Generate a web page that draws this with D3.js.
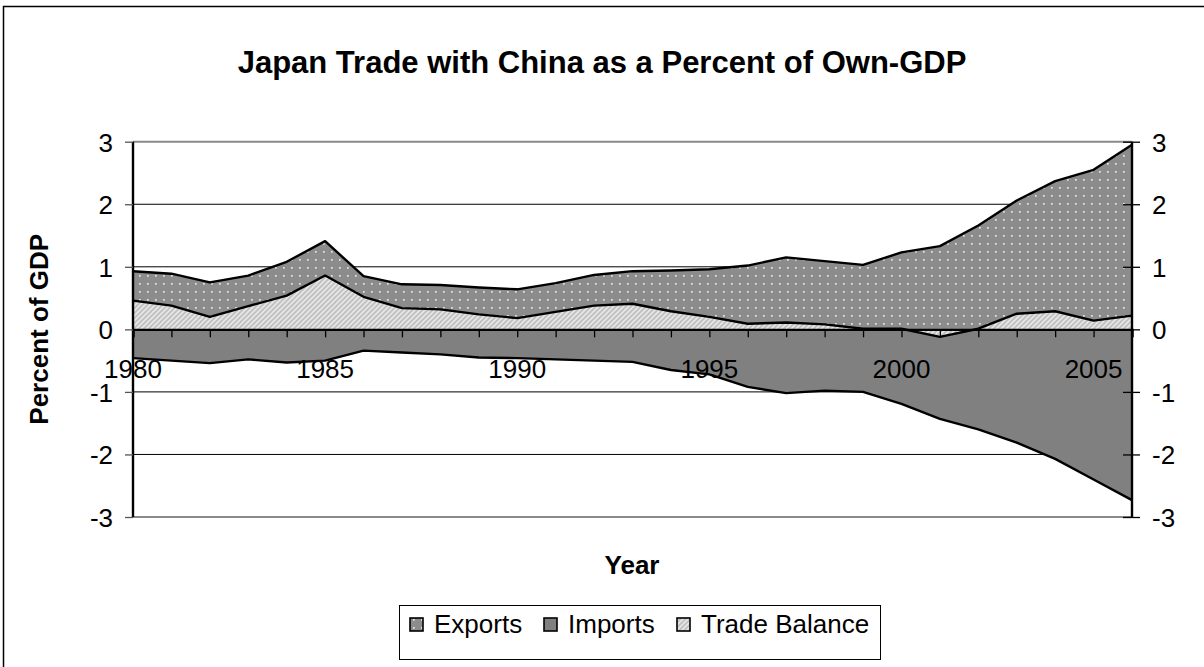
<!DOCTYPE html>
<html>
<head>
<meta charset="utf-8">
<script src="https://cdn.jsdelivr.net/npm/d3@7"></script>
<style>
  html, body { margin: 0; padding: 0; background: #fff; }
  svg { display: block; font-family: Arial, "Liberation Sans", sans-serif; }
</style>
</head>
<body>
<svg id="chart" width="1204" height="667"></svg>
<script>
// Japan's trade with China, percent of Japan's GDP, 1980-2006
const years = d3.range(1980, 2007);
const exportsPct = [0.93, 0.89, 0.75, 0.86, 1.08, 1.41, 0.85, 0.72, 0.71, 0.67, 0.64, 0.74, 0.87, 0.93, 0.94, 0.96,
                    1.02, 1.15, 1.09, 1.03, 1.23, 1.33, 1.66, 2.06, 2.37, 2.55, 2.95];
const importsPct = [-0.46, -0.50, -0.54, -0.48, -0.53, -0.50, -0.34, -0.37, -0.40, -0.45, -0.46, -0.48, -0.50, -0.52, -0.65, -0.72,
                    -0.92, -1.02, -0.98, -1.00, -1.19, -1.43, -1.60, -1.81, -2.07, -2.40, -2.73];
const balancePct = [0.46, 0.38, 0.20, 0.37, 0.54, 0.86, 0.52, 0.34, 0.32, 0.24, 0.18, 0.28, 0.38, 0.41, 0.29, 0.20,
                    0.09, 0.11, 0.08, 0.01, 0.01, -0.12, 0.01, 0.25, 0.29, 0.14, 0.22];
const yTicks = [3, 2, 1, 0, -1, -2, -3];
const xLabelYears = [1980, 1985, 1990, 1995, 2000, 2005];
const seriesNames = ["Exports", "Imports", "Trade Balance"];

const svg = d3.select("#chart");
const font = "Arial, 'Liberation Sans', sans-serif";
const tickFont = 26;

// outer chart frame
svg.append("rect").attr("x", 3.5).attr("y", 6.5).attr("width", 1220).attr("height", 700)
  .attr("fill", "#fff").attr("stroke", "#000").attr("stroke-width", 1.5);

// fill patterns
const defs = svg.append("defs");
const dots = defs.append("pattern").attr("id", "pat-exports").attr("patternUnits", "userSpaceOnUse")
  .attr("width", 8).attr("height", 8);
dots.append("rect").attr("width", 8).attr("height", 8).attr("fill", "#8c8c8c");
dots.append("rect").attr("x", 3).attr("y", 3).attr("width", 1.7).attr("height", 1.7).attr("fill", "#e6e6e6");

const stripes = defs.append("pattern").attr("id", "pat-balance").attr("patternUnits", "userSpaceOnUse")
  .attr("width", 5).attr("height", 5);
stripes.append("rect").attr("width", 5).attr("height", 5).attr("fill", "#c2c2c2");
stripes.append("path").attr("d", "M-1,1 L1,-1 M0,5 L5,0 M4,6 L6,4")
  .attr("stroke", "#ebebeb").attr("stroke-width", 1.5);

const fills = ["url(#pat-exports)", "#808080", "url(#pat-balance)"];

// plot geometry
const plotLeft = 133, plotRight = 1132, plotTop = 141.7, plotBottom = 517;
const x = d3.scaleLinear().domain([1980, 2006]).range([plotLeft, plotRight]);
const y = d3.scaleLinear().domain([-3, 3]).range([plotBottom, plotTop]);
const fmt = d => String(d);

// major gridlines
svg.append("g").selectAll("line").data(yTicks.filter(v => Math.abs(v) === 1 || Math.abs(v) === 2)).join("line")
  .attr("x1", plotLeft).attr("x2", plotRight).attr("y1", d => y(d)).attr("y2", d => y(d))
  .attr("stroke", "#000").attr("stroke-width", 1);

// plot area top/bottom border
svg.append("g").selectAll("line").data([3, -3]).join("line")
  .attr("x1", plotLeft).attr("x2", plotRight).attr("y1", d => y(d)).attr("y2", d => y(d))
  .attr("stroke", "#8a8a8a").attr("stroke-width", 2);

// areas, each filled from zero
const mk = vals => years.map((yr, i) => ({ yr, v: vals[i] }));
const area = d3.area().x(d => x(d.yr)).y0(y(0)).y1(d => y(d.v));
const line = d3.line().x(d => x(d.yr)).y(d => y(d.v));

[exportsPct, importsPct, balancePct].forEach((vals, i) => {
  svg.append("path").datum(mk(vals)).attr("d", area).attr("fill", fills[i]);
});
[exportsPct, importsPct, balancePct].forEach(vals => {
  svg.append("path").datum(mk(vals)).attr("d", line)
    .attr("fill", "none").attr("stroke", "#000").attr("stroke-width", 2.4).attr("stroke-linejoin", "round");
});

// x axis along zero
const xAxis = d3.axisBottom(x).tickValues(years).tickSize(8).tickFormat("");
const gx = svg.append("g").attr("transform", `translate(0,${y(0)})`).call(xAxis);
gx.select(".domain").attr("stroke", "#000").attr("stroke-width", 2.4);
gx.selectAll(".tick line").attr("stroke", "#000").attr("stroke-width", 1.3);

svg.append("g").selectAll("text").data(xLabelYears).join("text")
  .attr("x", d => x(d)).attr("y", 378).attr("text-anchor", "middle")
  .attr("font-family", font).attr("font-size", tickFont).attr("fill", "#000").text(fmt);

// left axis
const gl = svg.append("g").attr("transform", `translate(${plotLeft},0)`)
  .call(d3.axisLeft(y).tickValues(yTicks).tickSize(8).tickPadding(12).tickFormat(fmt));
gl.select(".domain").attr("stroke", "#000").attr("stroke-width", 2.4).attr("d", `M0,${plotTop}V${plotBottom}`);
gl.selectAll(".tick line").attr("stroke", "#555").attr("stroke-width", 1.3);
gl.selectAll(".tick text").attr("font-family", font).attr("font-size", tickFont).attr("fill", "#000").attr("dy", "0.36em");

// right axis with crossing ticks
const gr = svg.append("g").attr("transform", `translate(${plotRight},0)`)
  .call(d3.axisRight(y).tickValues(yTicks).tickSize(8).tickPadding(12).tickFormat(fmt));
gr.select(".domain").attr("stroke", "#000").attr("stroke-width", 2.4).attr("d", `M0,${plotTop}V${plotBottom}`);
gr.selectAll(".tick line").attr("x1", -9).attr("stroke", "#000").attr("stroke-width", 1.3);
gr.selectAll(".tick text").attr("font-family", font).attr("font-size", tickFont).attr("fill", "#000").attr("dy", "0.36em");

// titles
svg.append("text").attr("x", 602).attr("y", 73).attr("text-anchor", "middle")
  .attr("font-family", font).attr("font-size", 31).attr("font-weight", "bold")
  .text("Japan Trade with China as a Percent of Own-GDP");
svg.append("text").attr("x", 632).attr("y", 574).attr("text-anchor", "middle")
  .attr("font-family", font).attr("font-size", tickFont).attr("font-weight", "bold").text("Year");
svg.append("text").attr("transform", `translate(48,${(plotTop + plotBottom) / 2}) rotate(-90)`).attr("text-anchor", "middle")
  .attr("font-family", font).attr("font-size", tickFont).attr("font-weight", "bold").text("Percent of GDP");

// legend
const lg = svg.append("g");
lg.append("rect").attr("x", 399.5).attr("y", 605.5).attr("width", 481).attr("height", 54)
  .attr("fill", "#fff").attr("stroke", "#000").attr("stroke-width", 1);
const legendX = [410, 544, 677];
const items = lg.selectAll("g.item").data(seriesNames).join("g").attr("class", "item")
  .attr("transform", (d, i) => `translate(${legendX[i]},0)`);
items.append("rect").attr("x", 0).attr("y", 618).attr("width", 13).attr("height", 13)
  .attr("fill", (d, i) => fills[i]).attr("stroke", "#000").attr("stroke-width", 1.6);
items.append("text").attr("x", 24).attr("y", 633).attr("font-family", font).attr("font-size", tickFont)
  .attr("fill", "#000").text(d => d);
</script>
</body>
</html>
